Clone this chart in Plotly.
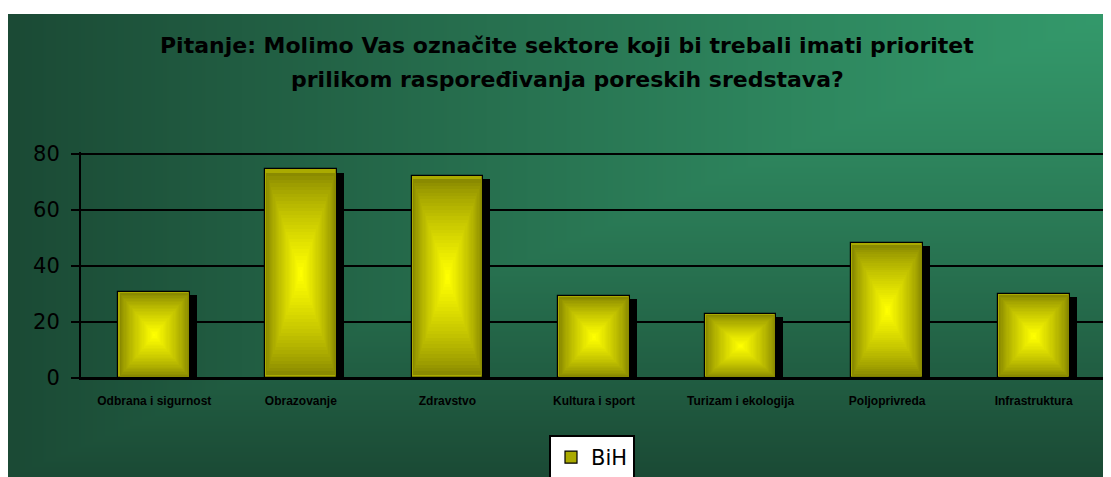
import base64, struct, zlib
import numpy as np
import plotly.graph_objects as go

categories = ["Odbrana i sigurnost", "Obrazovanje", "Zdravstvo", "Kultura i sport",
              "Turizam i ekologija", "Poljoprivreda", "Infrastruktura"]
values = [30.7, 74.5, 72.2, 29.3, 22.9, 48.2, 30.0]
series_name = "BiH"
title_lines = ["Pitanje: Molimo Vas označite sektore koji bi trebali imati prioritet",
               "prilikom raspoređivanja poreskih sredstava?"]
y_ticks = [0, 20, 40, 60, 80]

# the page body adds an 8px margin; figure coordinates = page coordinates - 8
W_PX, H_PX = 1103, 469
L, R, T, B = 73, 4, 144, 99
plot_w = W_PX - L - R
plot_h = H_PX - T - B
Y_MAX = 80 * plot_h / 224.0

# ---- background gradient image (from top-right corner) ----
bw, bh = 1103, 463
xs = np.arange(bw)[None, :]
ys = np.arange(bh)[:, None]
t = np.maximum((bw - 1 - xs) / bw, ys / bh)
t = np.clip(t, 0, 1) ** 1.15
light = np.array([52, 153, 107], float)
dark = np.array([27, 74, 53], float)
img = (light[None, None, :] * (1 - t[..., None]) + dark[None, None, :] * t[..., None]).astype(np.uint8)
raw = b"".join(b"\x00" + img[r].tobytes() for r in range(bh))


def chunk(tag, data):
    return struct.pack(">I", len(data)) + tag + data + struct.pack(">I", zlib.crc32(tag + data) & 0xffffffff)


png = (b"\x89PNG\r\n\x1a\n" + chunk(b"IHDR", struct.pack(">IIBBBBB", bw, bh, 8, 2, 0, 0, 0))
       + chunk(b"IDAT", zlib.compress(raw, 9)) + chunk(b"IEND", b""))
bg_uri = "data:image/png;base64," + base64.b64encode(png).decode()

fig = go.Figure()

bar_w = 0.49
unit_px = plot_w / len(categories)

# shadow
fig.add_trace(go.Bar(
    x=categories, y=values, base=[-1.2] * len(values),
    width=bar_w, offset=-bar_w / 2 + 7 / unit_px,
    marker=dict(color="black", line=dict(width=0)),
    showlegend=False, hoverinfo="skip", cliponaxis=False,
))

# gradient "from center" built from nested bars
N = 30
edge = np.array([128, 128, 0], float)
center = np.array([255, 255, 0], float)
for k in range(N):
    f = 1 - k / N
    s = (k / (N - 1)) ** 0.75
    c = edge * (1 - s) + center * s
    col = "rgb(%d,%d,%d)" % tuple(int(round(v)) for v in c)
    if k == 0:
        col = "rgb(170,170,0)"
    fig.add_trace(go.Bar(
        x=categories,
        y=[v * f for v in values],
        base=[v * (1 - f) / 2 for v in values],
        width=bar_w * f,
        offset=-bar_w * f / 2,
        marker=dict(color=col, line=dict(color="black", width=1.2 if k == 0 else 0)),
        name=series_name,
        showlegend=(k == 0),
        hoverinfo="skip",
    ))

title_font = "DejaVu Sans, Verdana, sans-serif"
arial = "Arial, Liberation Sans, sans-serif"
y0 = H_PX - B  # pixel row of value 0


def py(px):
    return (y0 - px) / plot_h


def px_(px):
    return (px - L) / plot_w


annotations = []
for i, line in enumerate(title_lines):
    annotations.append(dict(
        text=line, xref="paper", yref="paper",
        x=px_(559), y=py(37 + 34 * i),
        xanchor="center", yanchor="middle", showarrow=False,
        font=dict(family=title_font, size=22, color="black", weight="bold"),
    ))

fig.update_layout(
    width=W_PX, height=H_PX,
    margin=dict(l=L, r=R, t=T, b=B, pad=0, autoexpand=False),
    paper_bgcolor="white", plot_bgcolor="rgba(0,0,0,0)",
    barmode="overlay", bargap=0,
    annotations=annotations,
    images=[dict(source=bg_uri, xref="paper", yref="paper",
                 x=px_(0), y=py(6),
                 sizex=bw / plot_w, sizey=bh / plot_h,
                 xanchor="left", yanchor="top", sizing="stretch", layer="below")],
    showlegend=True,
    legend=dict(x=px_(541), y=py(427), xanchor="left", yanchor="top",
                bgcolor="white", bordercolor="black", borderwidth=2,
                font=dict(family=title_font, size=21, color="black"),
                itemwidth=30, orientation="h"),
    xaxis=dict(type="category", showgrid=False, showline=True, linecolor="black", linewidth=2,
               ticks="", tickfont=dict(family=arial, size=12, color="black", weight="bold"),
               ticklabelstandoff=11),
    yaxis=dict(range=[0, Y_MAX], tickvals=y_ticks, showgrid=True, gridcolor="black", gridwidth=2,
               showline=True, linecolor="black", linewidth=2,
               zeroline=True, zerolinecolor="black", zerolinewidth=2,
               ticks="outside", ticklen=8, tickwidth=2, tickcolor="black",
               tickfont=dict(family=title_font, size=21, color="black"),
               ticklabelstandoff=7),
)

fig.write_html("out.html")
